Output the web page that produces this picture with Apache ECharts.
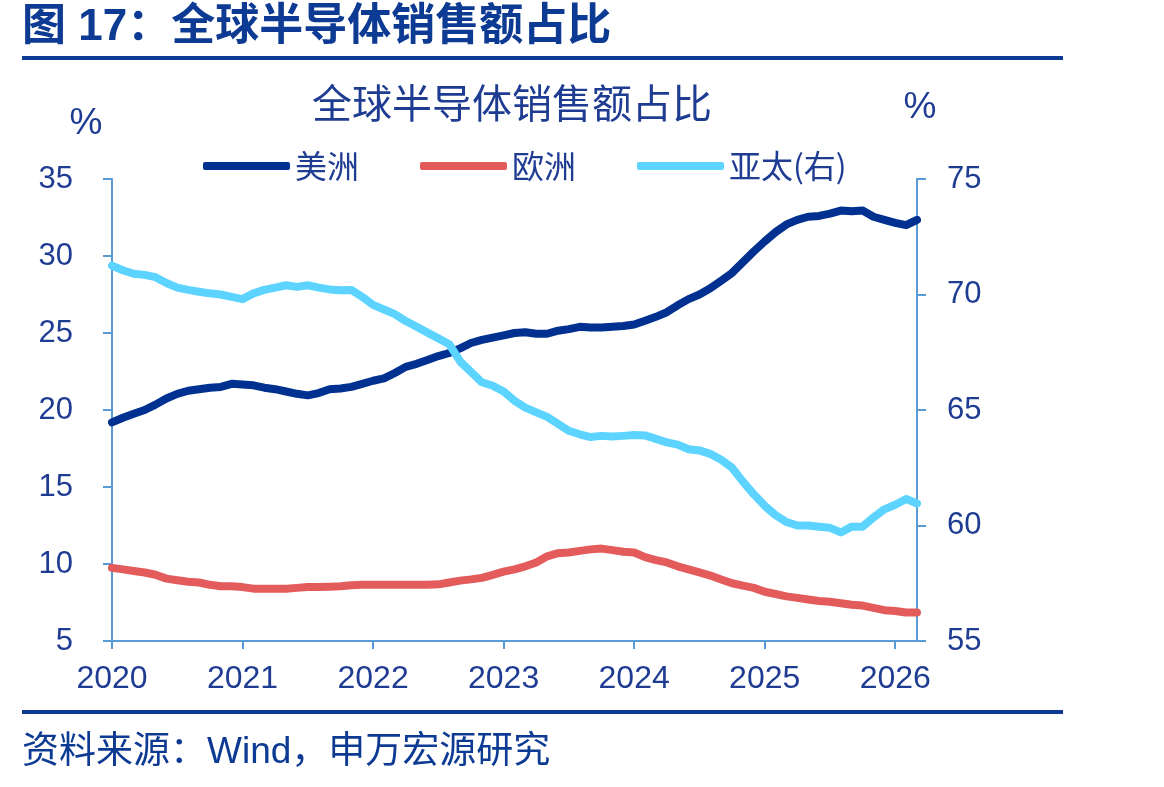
<!DOCTYPE html>
<html>
<head>
<meta charset="utf-8">
<script src="https://cdn.jsdelivr.net/npm/echarts@6/dist/echarts.min.js"></script>
<style>
  html, body { margin: 0; padding: 0; background: #fff; }
  #chart { width: 1164px; height: 787px; }
</style>
</head>
<body>
<div id="chart"></div>
<script>
// monthly, Jan 2020 .. Mar 2026
const months = [];
for (let y = 2020; y <= 2026; y++) {
  for (let m = 1; m <= 12; m++) {
    if (y === 2026 && m > 3) break;
    months.push(y + '-' + (m < 10 ? '0' + m : m));
  }
}

const americas = [
  19.2, 19.5, 19.75, 20.0, 20.35, 20.75, 21.05, 21.25, 21.35, 21.45, 21.5, 21.7,
  21.65, 21.6, 21.45, 21.35, 21.2, 21.05, 20.95, 21.1, 21.35, 21.4, 21.5, 21.7,
  21.9, 22.05, 22.4, 22.8, 23.0, 23.25, 23.5, 23.7, 24.0, 24.35, 24.55, 24.7,
  24.85, 25.0, 25.05, 24.95, 24.95, 25.15, 25.25, 25.4, 25.35, 25.35, 25.4, 25.45,
  25.55, 25.8, 26.05, 26.35, 26.8, 27.2, 27.5, 27.9, 28.4, 28.9, 29.6, 30.3,
  30.95, 31.55, 32.05, 32.35, 32.55, 32.6, 32.75, 32.95, 32.9, 32.95, 32.55, 32.35,
  32.15, 32.0, 32.35
];
const europe = [
  9.75, 9.65, 9.55, 9.45, 9.3, 9.05, 8.95, 8.85, 8.8, 8.65, 8.55, 8.55,
  8.5, 8.4, 8.4, 8.4, 8.4, 8.45, 8.5, 8.5, 8.52, 8.55, 8.62, 8.65,
  8.65, 8.65, 8.65, 8.65, 8.65, 8.65, 8.68, 8.8, 8.92, 9.0, 9.1, 9.3,
  9.5, 9.65, 9.85, 10.1, 10.5, 10.7, 10.75, 10.85, 10.95, 11.0, 10.9, 10.8,
  10.75, 10.45, 10.25, 10.1, 9.85, 9.65, 9.45, 9.25, 9.0, 8.75, 8.6, 8.45,
  8.2, 8.05, 7.9, 7.8, 7.7, 7.6, 7.55, 7.45, 7.35, 7.3, 7.15, 7.0,
  6.95, 6.85, 6.85
];
const asiaPacific = [
  71.25, 71.05, 70.9, 70.85, 70.75, 70.5, 70.3, 70.2, 70.12, 70.05, 70.0, 69.9,
  69.8, 70.05, 70.2, 70.3, 70.4, 70.33, 70.4, 70.3, 70.22, 70.18, 70.2, 69.9,
  69.55, 69.35, 69.15, 68.85, 68.6, 68.35, 68.1, 67.85, 67.1, 66.65, 66.2, 66.05,
  65.8, 65.4, 65.1, 64.9, 64.7, 64.4, 64.1, 63.95, 63.83, 63.88, 63.85, 63.88,
  63.92, 63.9, 63.75, 63.6, 63.5, 63.3, 63.25, 63.1, 62.85, 62.5, 61.9, 61.35,
  60.85, 60.45, 60.15, 60.0, 60.0, 59.95, 59.9, 59.7, 59.95, 59.95, 60.35, 60.7,
  60.9, 61.15, 60.95
];

const seriesNames = ['美洲', '欧洲', '亚太(右)'];
const seriesColors = ['#003090', '#e35b5b', '#5cd4ff'];

const textColor = '#1f3c93';
const axisColor = '#5b9bd5';
const font = "'Liberation Sans', 'Noto Sans CJK SC', sans-serif";
const cjkFont = "'Noto Sans CJK SC', sans-serif";

const chart = echarts.init(document.getElementById('chart'));

const yearTick = (index) => index % 12 === 0;

const option = {
  animation: false,
  backgroundColor: '#fff',
  textStyle: { fontFamily: font },
  grid: { left: 112, right: 247, top: 179, bottom: 146, containLabel: false },
  legend: {
    data: seriesNames,
    left: 198,
    top: 145,
    icon: 'roundRect',
    itemWidth: 87,
    itemHeight: 8,
    itemGap: 61,
    textStyle: { fontSize: 32, color: textColor, fontFamily: cjkFont }
  },
  xAxis: {
    type: 'category',
    data: months,
    boundaryGap: false,
    axisLine: { lineStyle: { color: axisColor, width: 2 } },
    axisTick: { interval: yearTick, length: 8, lineStyle: { color: axisColor, width: 2 } },
    axisLabel: {
      interval: yearTick,
      formatter: (v) => v.slice(0, 4),
      fontSize: 32,
      color: textColor,
      margin: 22
    },
    splitLine: { show: false }
  },
  yAxis: [
    {
      type: 'value',
      min: 5,
      max: 35,
      interval: 5,
      axisLine: { show: true, lineStyle: { color: axisColor, width: 2 } },
      axisTick: { show: true, length: 9, lineStyle: { color: axisColor, width: 2 } },
      axisLabel: { fontSize: 31, color: textColor, margin: 39 },
      splitLine: { show: false }
    },
    {
      type: 'value',
      position: 'right',
      min: 55,
      max: 75,
      interval: 5,
      axisLine: { show: true, lineStyle: { color: axisColor, width: 2 } },
      axisTick: { show: true, length: 9, lineStyle: { color: axisColor, width: 2 } },
      axisLabel: { fontSize: 31, color: textColor, margin: 30 },
      splitLine: { show: false }
    }
  ],
  series: [
    { name: seriesNames[0], data: americas, yAxisIndex: 0 },
    { name: seriesNames[1], data: europe, yAxisIndex: 0 },
    { name: seriesNames[2], data: asiaPacific, yAxisIndex: 1 }
  ].map((s, i) => ({
    ...s,
    type: 'line',
    showSymbol: false,
    symbol: 'none',
    color: seriesColors[i],
    lineStyle: { width: 8, color: seriesColors[i], cap: 'round', join: 'round' }
  })),
  graphic: [
    {
      type: 'text', left: 22, top: 6,
      style: { text: '图 17：全球半导体销售额占比', fill: '#0d3a92', font: "bold 44px 'Liberation Sans', 'Noto Sans CJK SC'" }
    },
    { type: 'rect', shape: { x: 22, y: 56, width: 1041, height: 4 }, style: { fill: '#0d3a92' } },
    {
      type: 'text', x: 512, y: 103,
      style: { text: '全球半导体销售额占比', fontSize: 40, fill: textColor, fontFamily: cjkFont, align: 'center', verticalAlign: 'middle' }
    },
    {
      type: 'text', x: 86, y: 124,
      style: { text: '%', fontSize: 37, fill: textColor, fontFamily: font, align: 'center', verticalAlign: 'middle' }
    },
    {
      type: 'text', x: 920, y: 108,
      style: { text: '%', fontSize: 37, fill: textColor, fontFamily: font, align: 'center', verticalAlign: 'middle' }
    },
    { type: 'rect', shape: { x: 22, y: 710, width: 1041, height: 4 }, style: { fill: '#0d3a92' } },
    {
      type: 'text', x: 22, y: 753,
      style: { text: '资料来源：Wind，申万宏源研究', fontSize: 37, fill: '#0d3a92', fontFamily: font, verticalAlign: 'middle' }
    }
  ]
};

chart.setOption(option);
</script>
</body>
</html>
